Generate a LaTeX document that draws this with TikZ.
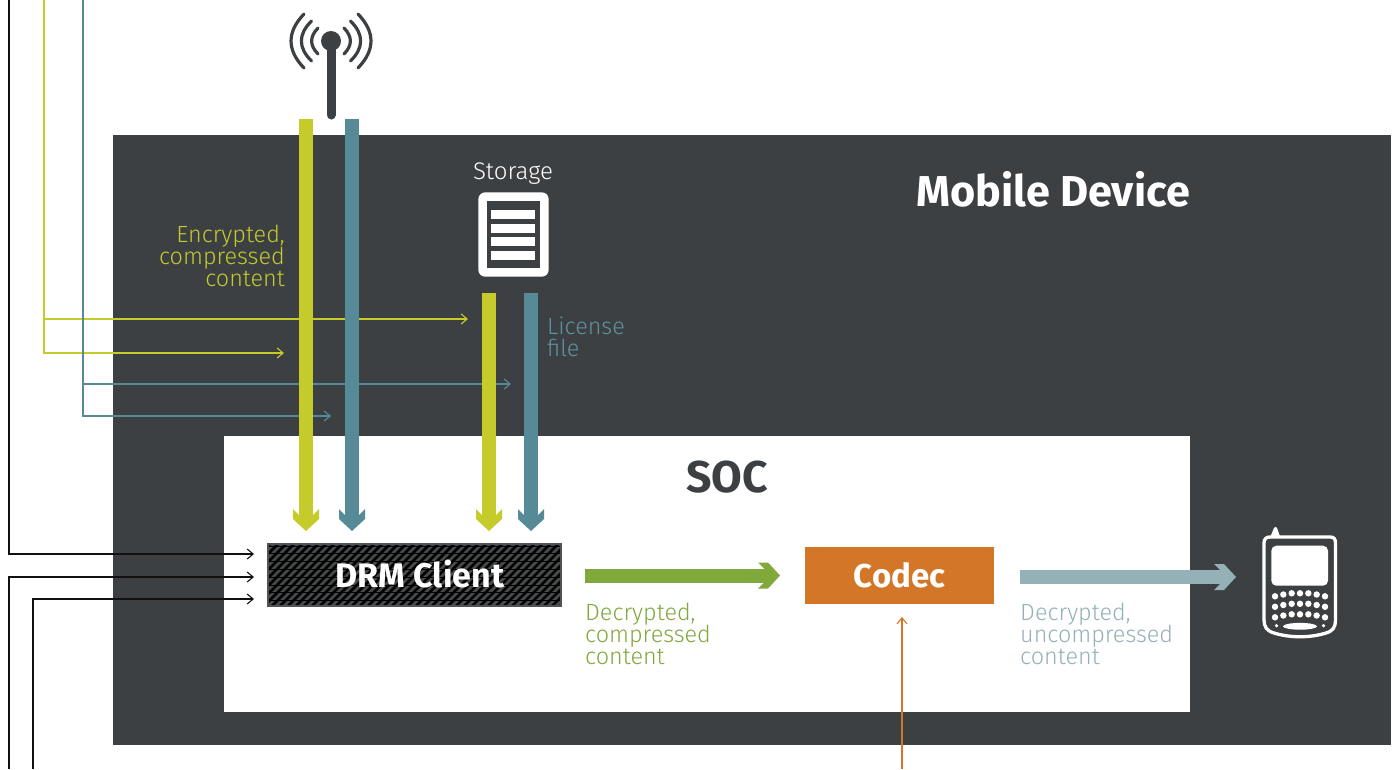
\documentclass[tikz,border=0pt]{standalone}
\usepackage{fontspec}
\setmainfont{Fira Sans}
\newfontfamily\lightf{Fira Sans Light}
\usetikzlibrary{arrows.meta}
\normallineskiplimit=-30pt
\lineskiplimit=-30pt
\definecolor{dk}{HTML}{3D4043}
\definecolor{yel}{HTML}{C4CB2A}
\definecolor{tea}{HTML}{568A96}
\definecolor{tel}{HTML}{5F929E}
\definecolor{grn}{HTML}{80A83B}
\definecolor{org}{HTML}{D47627}
\definecolor{lbl}{HTML}{93B1B6}
\definecolor{ink}{HTML}{111111}
\definecolor{hatch}{HTML}{484A4C}
\pgfdeclarearrow{
  name=BarHead,
  setup code={
    \pgfarrowssettipend{0pt}
    \pgfarrowssetbackend{-22pt}
    \pgfarrowssetlineend{-14pt}
    \pgfarrowssetvisualbackend{-14pt}
  },
  drawing code={
    \pgfpathmoveto{\pgfpoint{0pt}{0pt}}
    \pgfpathlineto{\pgfpoint{-12pt}{13pt}}
    \pgfpathlineto{\pgfpoint{-22pt}{13pt}}
    \pgfpathlineto{\pgfpoint{-16pt}{7pt}}
    \pgfpathlineto{\pgfpoint{-16pt}{-7pt}}
    \pgfpathlineto{\pgfpoint{-22pt}{-13pt}}
    \pgfpathlineto{\pgfpoint{-12pt}{-13pt}}
    \pgfpathclose
    \pgfusepathqfill
  }
}
\tikzset{
  thin line/.style={line width=1.1pt,-{Straight Barb[length=6pt,width=10pt,line width=1.1pt]}},
  bar/.style={line width=14pt,-{BarHead}},
  lab/.style={inner sep=0pt,font=\lightf\fontsize{23.4}{22}\selectfont},
  ttl/.style={inner sep=0pt,font=\bfseries\fontsize{43.2}{43}\selectfont},
  blk/.style={text=white,inner sep=0pt,font=\bfseries\fontsize{34}{34}\selectfont},
  arc line/.style={dk,line width=3.2pt,line cap=round}
}
\begin{document}
\begin{tikzpicture}[x=1pt,y=-1pt]
\useasboundingbox (0,0) rectangle (1396,769);
\fill[white] (0,0) rectangle (1396,769);
% panels
\fill[dk] (113,135) rectangle (1391,745);
\fill[white] (224,436) rectangle (1190,712);
% titles
\node[ttl,text=white,anchor=east] (mobile) at (1190,189.5) {Mobile Device};
\node[ttl,text=dk,font=\bfseries\fontsize{44.5}{44}\selectfont] (soc) at (727,477) {SOC};
% DRM box
\node[draw=none,minimum width=293pt,minimum height=62pt,inner sep=0pt] (drm) at (414.5,575) {};
\begin{scope}
\clip (268,544) rectangle (561,606);
\fill[black] (268,544) rectangle (561,606);
\foreach \i in {0,...,48}{
  \draw[color=hatch,line width=2.8pt] ({190+\i*8},612) -- ({190+\i*8+74},538);
}
\foreach \i in {0,...,8}{
  \draw[black,line width=0.9pt] (262,{546+\i*7.8}) -- (568,{546+\i*7.8});
}
\end{scope}
\draw[color=dk!90!white,line width=2pt] (268,544) rectangle (561,606);
\node[blk] (drmt) at (420,574) {DRM Client};
% codec
\node[fill=org,minimum width=189pt,minimum height=57pt,inner sep=0pt] (codec) at (899.5,575.5) {};
\node[text=white,inner sep=0pt,font=\bfseries\fontsize{33}{33}\selectfont] (codect) at (899.5,575) {Codec};
% free ends
\coordinate (a1) at (9,0);  \coordinate (a1e) at (254,554);
\coordinate (a2) at (9,769); \coordinate (a2e) at (254,577);
\coordinate (a3) at (33,769); \coordinate (a3e) at (254,599);
\coordinate (y0) at (44,0); \coordinate (y1e) at (468,319); \coordinate (y2e) at (284,353);
\coordinate (t0) at (83,0); \coordinate (t1e) at (511,384); \coordinate (t2e) at (331,416);
\coordinate (o0) at (902,769); \coordinate (o1) at (902,617);
% thin connectors
\draw[thin line,ink] (a1) |- (a1e);
\draw[thin line,ink] (a2) |- (a2e);
\draw[thin line,ink] (a3) |- (a3e);
\draw[thin line,yel] (y0) |- (y1e);
\draw[thin line,yel] (y0) |- (y2e);
\draw[thin line,tea] (t0) |- (t1e);
\draw[thin line,tea] (t0) |- (t2e);
\draw[thin line,org] (o0) -- (o1);
% bars
\coordinate (b1s) at (306,119); \coordinate (b1e) at (306,531);
\coordinate (b2s) at (352,119); \coordinate (b2e) at (352,531);
\coordinate (b3s) at (489,293); \coordinate (b3e) at (489,531);
\coordinate (b4s) at (531,293); \coordinate (b4e) at (531,531);
\draw[bar,yel] (b1s) -- (b1e);
\draw[bar,tea] (b2s) -- (b2e);
\draw[bar,yel] (b3s) -- (b3e);
\draw[bar,tea] (b4s) -- (b4e);
\coordinate (c1s) at (585,575.5); \coordinate (c1e) at (780,575.5);
\coordinate (c2s) at (1020,577); \coordinate (c2e) at (1236,577);
\draw[bar,grn] (c1s) -- (c1e);
\draw[bar,lbl] (c2s) -- (c2e);
% labels
\node[lab,text=yel,anchor=east,align=right] (l1) at (285,256) {Encrypted,\\compressed\\content};
\node[lab,text=tel,anchor=west,align=left] (l2) at (547,337) {License\\file};
\node[lab,text=grn,anchor=west,align=left] (l3) at (585,634) {Decrypted,\\compressed\\content};
\node[lab,text=lbl,anchor=west,align=left] (l4) at (1020,634) {Decrypted,\\uncompressed\\content};
\node[inner sep=0pt,font=\lightf\fontsize{24}{24}\selectfont,text=white] (l5) at (513,174) {Storage};
% antenna
\fill[dk] (331,41) circle (10);
\draw[dk,line width=9pt,line cap=round] (331,41) -- (331,115);
\foreach \s in {-1,1}{
  \draw[arc line] ({331+\s*27},14) .. controls ({331+\s*44.3},32) and ({331+\s*44.3},50) .. ({331+\s*27},68);
  \draw[arc line] ({331+\s*19.5},21) .. controls ({331+\s*33},34.3) and ({331+\s*33},47.7) .. ({331+\s*19.5},61);
  \draw[arc line] ({331+\s*13},28) .. controls ({331+\s*21.5},36.7) and ({331+\s*21.5},45.3) .. ({331+\s*13},54);
}
% storage icon
\fill[white,rounded corners=7pt] (478.3,192.3) rectangle (548.7,276.7);
\fill[dk] (486.7,201) rectangle (540.3,268);
\foreach \y in {210.3,224,237.3,251}{
  \fill[white] (491.3,\y) rectangle (534.7,{\y+8.7});
}
% phone icon
\fill[white] (1270.5,536.5) -- (1274,528) .. controls (1275,526.5) and (1276,526.5) .. (1277,528) -- (1280,536.5) -- cycle;
\draw[white,line width=3.3pt,line join=round] (1270,537) -- (1330,537) .. controls (1334,537) and (1335.5,539) .. (1335.5,543)
  -- (1335.5,620) .. controls (1335.5,627) and (1333,631) .. (1326,633) .. controls (1310,638) and (1290,638) .. (1274,633)
  .. controls (1267,631) and (1264,627) .. (1264,620) -- (1264,543) .. controls (1264,539) and (1266,537) .. (1270,537) -- cycle;
\fill[white,rounded corners=5pt] (1271.3,545.7) rectangle (1328,585.7);
\foreach \r in {0,1,2}{
  \foreach \x/\dy in {0/3,1/1.2,2/0,3/0,4/0,5/1.2,6/3}{
    \fill[white] ({1275+\x*8.33},{593.3+\r*10.5+\dy}) circle (3.2);
  }
}
\fill[white] (1276.5,625.7) circle (1.8);
\fill[white] (1323.5,625.7) circle (1.8);
\fill[white] (1300,626.3) ellipse (17 and 3.4);
\end{tikzpicture}
\end{document}
